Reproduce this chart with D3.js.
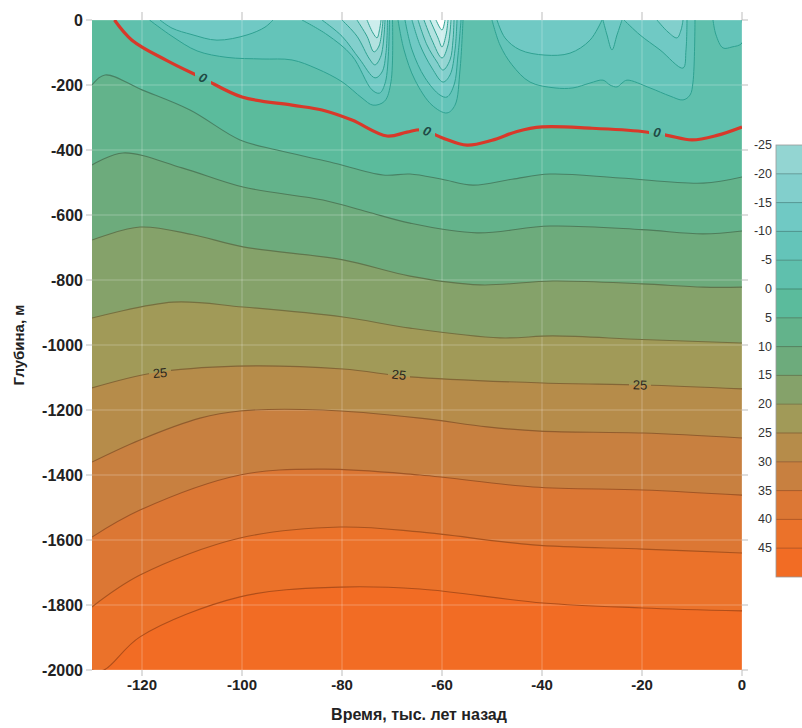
<!DOCTYPE html>
<html>
<head>
<meta charset="utf-8">
<script src="https://cdn.jsdelivr.net/npm/d3@7"></script>
<style>
  body { margin: 0; background: #ffffff; }
  text { font-family: "Liberation Sans", Arial, sans-serif; }
</style>
</head>
<body>
<svg id="chart" width="802" height="728"></svg>
<script>
// ---- axes ----
const timeTicks = [-120, -100, -80, -60, -40, -20, 0];
const depthTicks = [0, -200, -400, -600, -800, -1000, -1200, -1400, -1600, -1800, -2000];

// ---- colour scale (°C) ----
const legendLevels = [-25, -20, -15, -10, -5, 0, 5, 10, 15, 20, 25, 30, 35, 40, 45];
const legendColors = ["#93d5d2", "#82cfcc", "#70c9c4", "#64c4b9", "#5fc0ad", "#5bbb9c",
  "#63b38b", "#6dab7c", "#85a26a", "#a19a58", "#b68c4a", "#c88040", "#dc7734", "#eb722a", "#f26c24"];
const colderColors = { "-25": "#b3e2e0", "-30": "#cdeeed", "-35": "#ffffff" };

// ---- isotherms: [time, kyr BP ; depth, m] ----
const iso0 = [[-125.5, 0], [-122, -62], [-115, -125], [-108, -178], [-100, -237], [-90, -262], [-84, -277],
  [-78, -308], [-71, -357], [-67, -345], [-64, -338], [-60, -362], [-55, -385], [-50, -370], [-45, -343],
  [-40, -329], [-30, -333], [-20, -343], [-15, -355], [-10, -369], [-5, -355], [0, -329]];
const iso5 = [[-130, -200], [-127.4, -169], [-120, -215], [-110.4, -277], [-100.4, -369], [-93, -400],
  [-82.4, -437], [-71.8, -477], [-66.4, -474], [-60, -490], [-53.8, -508], [-46, -490], [-38.4, -474],
  [-24.4, -486], [-7.8, -502], [0, -483]];
const iso10 = [[-130, -446], [-123.8, -409], [-112, -455], [-99.8, -514], [-83.8, -554], [-75, -590],
  [-66.4, -625], [-53, -655], [-38.4, -634], [-20, -645], [-7.8, -658], [0, -649]];
const iso15 = [[-130, -677], [-120.4, -637], [-110, -660], [-99.8, -698], [-79.8, -738], [-66.4, -788],
  [-52.4, -815], [-37.8, -803], [-20, -812], [-7.8, -822], [0, -822]];
const iso20 = [[-130, -917], [-113.8, -868], [-99.8, -883], [-79.8, -914], [-66.4, -948], [-48.4, -978],
  [-37.8, -972], [-20, -983], [0, -994]];
const iso25 = [[-130, -1132], [-117.8, -1086], [-101, -1065], [-79.8, -1074], [-66.4, -1098],
  [-39.8, -1117], [-19.8, -1123], [0, -1135]];
const iso30 = [[-130, -1360], [-120.4, -1292], [-108.4, -1225], [-100.4, -1203], [-83.8, -1200],
  [-64.4, -1225], [-51, -1252], [-40.4, -1265], [-19.8, -1271], [0, -1286]];
const iso35 = [[-130, -1591], [-120.4, -1508], [-100.4, -1400], [-83.8, -1382], [-64.4, -1400],
  [-41.8, -1437], [-19.8, -1446], [0, -1462]];
const iso40 = [[-130, -1806], [-120.4, -1708], [-100.4, -1594], [-80.4, -1560], [-64.4, -1575],
  [-41.8, -1615], [-19.8, -1628], [0, -1640]];
const iso45 = [[-130, -2000], [-127.6, -2000], [-120.4, -1898], [-100.4, -1775], [-80.4, -1745],
  [-64.4, -1751], [-39.8, -1794], [-19.8, -1809], [0, -1818]];

// ---- sub-zero pockets near the surface (closed against depth 0) ----
const pocketWestOuter = [[-118.5, 0], [-114, -50], [-109, -95], [-103, -115], [-96, -120], [-90, -123],
  [-85, -150], [-80, -190], [-76, -240], [-73.8, -262], [-71.5, -250], [-70.2, -190], [-69.9, 0]];
const pocketWestShallow = [[-116.4, 0], [-114, -25], [-110, -45], [-105, -62], [-99, -46], [-95.4, -22], [-93.8, 0]];
const pocketWest10 = [[-88, 0], [-83, -45], [-78, -110], [-74, -215], [-72.5, -225], [-71.3, -190], [-70.5, 0]];
const pocketWest15 = [[-84, 0], [-80, -50], [-76.5, -120], [-73.4, -178], [-72, -160], [-71.2, -100], [-70.9, 0]];
const pocketWest20 = [[-80, 0], [-77, -50], [-74.5, -120], [-73.4, -138], [-72.2, -110], [-71.4, 0]];
const pocketWest25 = [[-77, 0], [-75, -50], [-73.6, -98], [-72.6, -80], [-71.8, 0]];
const pocketWest30 = [[-75, 0], [-73.8, -40], [-73, -55], [-72.5, -30], [-72.2, 0]];

const pocketMid5 = [[-68.8, 0], [-67.6, -92], [-65.4, -185], [-62, -262], [-59, -286], [-57.4, -262], [-56.4, -154], [-55.8, 0]];
const pocketMid10 = [[-67.4, 0], [-66, -92], [-63.4, -178], [-60.4, -231], [-59, -237], [-57.6, -200], [-56.8, -108], [-56.2, 0]];
const pocketMid15 = [[-66, 0], [-64.4, -77], [-62, -148], [-59.8, -191], [-58.4, -169], [-57.4, -92], [-57, 0]];
const pocketMid20 = [[-64.8, 0], [-63, -77], [-61, -129], [-59.8, -154], [-58.4, -123], [-57.8, -62], [-57.6, 0]];
const pocketMid25 = [[-63.6, 0], [-62, -62], [-60, -117], [-58.8, -77], [-58.2, 0]];
const pocketMid30 = [[-62.4, 0], [-60.8, -55], [-60, -83], [-59.2, -46], [-58.8, 0]];
const pocketMid35 = [[-61.2, 0], [-60, -31], [-59.4, 0]];

const pocketEastOuter = [[-50, 0], [-48.4, -77], [-46, -138], [-42.4, -191], [-37.4, -209], [-33.8, -209],
  [-30.4, -194], [-27.8, -185], [-26.4, -200], [-25, -206], [-24, -194], [-23, -185], [-18.4, -209],
  [-14.4, -234], [-11.8, -246], [-10.4, -231], [-9.8, -191], [-9.4, 0]];
const pocketEastA = [[-49, 0], [-47.4, -55], [-44.4, -92], [-39.4, -108], [-34.4, -102], [-30.4, -62], [-28, 0]];
const pocketEastB = [[-27.8, 0], [-27, -46], [-26, -92], [-25, -46], [-24, 0]];
const pocketEastC = [[-23.6, 0], [-20.4, -46], [-16.4, -92], [-11.8, -148], [-11.2, -92], [-11, 0]];
const pocketEastD = [[-17, 0], [-14.8, -37], [-13, -55], [-12.2, -31], [-11.8, 0]];
const pocketEdge = [[-5.8, 0], [-5.2, -46], [-3.8, -86], [-2, -83], [0, -71], [0, 0]];

// ---- contour labels [time, depth] ----
const zeroLabels = [[-107.8, -178], [-63, -342], [-17, -346]];
const label25 = [[-116.4, -1086], [-68.6, -1092], [-20.4, -1123]];

// ================= drawing =================
const W = 802, H = 728;
const plot = { left: 92, right: 742, top: 20, bottom: 670 };
const x = d3.scaleLinear().domain([-130, 0]).range([plot.left, plot.right]);
const y = d3.scaleLinear().domain([0, -2000]).range([plot.top, plot.bottom]);

const svg = d3.select("#chart");
const defs = svg.append("defs");
defs.append("clipPath").attr("id", "plotClip").append("rect")
  .attr("x", plot.left).attr("y", plot.top)
  .attr("width", plot.right - plot.left).attr("height", plot.bottom - plot.top);

// fill colour for the region just colder than an isotherm
const bandColor = lvl => {
  const i = legendLevels.indexOf(lvl);
  if (i > 0) return legendColors[i - 1];
  return colderColors[String(lvl)] || legendColors[0];
};
// line colour of an isotherm: darker shade of the warmer side
const lineColor = lvl => d3.color(legendColors[legendLevels.indexOf(lvl)]).darker(0.9).formatHex();

const g = svg.append("g").attr("clip-path", "url(#plotClip)");
const curve = d3.curveCatmullRom.alpha(0.5);

// warmest band as background
g.append("rect").attr("x", plot.left).attr("y", plot.top)
  .attr("width", plot.right - plot.left).attr("height", plot.bottom - plot.top)
  .attr("fill", legendColors[legendColors.length - 1]);

const isotherms = [
  { level: 45, pts: iso45 }, { level: 40, pts: iso40 }, { level: 35, pts: iso35 },
  { level: 30, pts: iso30 }, { level: 25, pts: iso25 }, { level: 20, pts: iso20 },
  { level: 15, pts: iso15 }, { level: 10, pts: iso10 }, { level: 5, pts: iso5 },
  { level: 0, pts: iso0 }
];

const area = d3.area().x(d => x(d[0])).y0(y(0)).y1(d => y(d[1])).curve(curve);
const line = d3.line().x(d => x(d[0])).y(d => y(d[1])).curve(curve);

isotherms.forEach(iso => {
  g.append("path").attr("d", area(iso.pts)).attr("fill", bandColor(iso.level));
});

const pockets = [
  { level: -5, pts: pocketWestOuter }, { level: -5, pts: pocketMid5 }, { level: -5, pts: pocketEastOuter },
  { level: -5, pts: pocketEdge },
  { level: -10, pts: pocketWestShallow }, { level: -10, pts: pocketWest10 }, { level: -10, pts: pocketMid10 },
  { level: -10, pts: pocketEastA }, { level: -10, pts: pocketEastB }, { level: -10, pts: pocketEastC },
  { level: -15, pts: pocketWest15 }, { level: -15, pts: pocketMid15 }, { level: -15, pts: pocketEastD },
  { level: -20, pts: pocketWest20 }, { level: -20, pts: pocketMid20 },
  { level: -25, pts: pocketWest25 }, { level: -25, pts: pocketMid25 },
  { level: -30, pts: pocketWest30 }, { level: -30, pts: pocketMid30 },
  { level: -35, pts: pocketMid35 }
];

pockets.forEach(p => {
  g.append("path").attr("d", line(p.pts) + "Z").attr("fill", bandColor(p.level));
});

// grid
const grid = g.append("g").attr("stroke", "rgba(255,255,255,0.28)").attr("stroke-width", 1);
timeTicks.forEach(t => grid.append("line").attr("x1", x(t)).attr("x2", x(t)).attr("y1", plot.top).attr("y2", plot.bottom));
depthTicks.forEach(d => grid.append("line").attr("y1", y(d)).attr("y2", y(d)).attr("x1", plot.left).attr("x2", plot.right));

// label gaps in contour lines
const mask = defs.append("mask").attr("id", "labelGaps");
mask.append("rect").attr("x", 0).attr("y", 0).attr("width", W).attr("height", H).attr("fill", "#fff");
zeroLabels.forEach(p => mask.append("rect").attr("x", x(p[0]) - 8).attr("y", y(p[1]) - 8).attr("width", 16).attr("height", 16).attr("fill", "#000"));
label25.forEach(p => mask.append("rect").attr("x", x(p[0]) - 11).attr("y", y(p[1]) - 7).attr("width", 22).attr("height", 14).attr("fill", "#000"));

const lines = g.append("g").attr("mask", "url(#labelGaps)").attr("fill", "none");

pockets.forEach(p => {
  lines.append("path").attr("d", line(p.pts)).attr("stroke", "#2fa191").attr("stroke-width", 1);
});

isotherms.forEach(iso => {
  lines.append("path").attr("d", line(iso.pts))
    .attr("stroke", iso.level === 0 ? "#d8392a" : lineColor(iso.level))
    .attr("stroke-width", iso.level === 0 ? 3.2 : 1.1);
});

// label orientation follows the isotherm
function slopeAngle(pts, t) {
  for (let i = 0; i < pts.length - 1; i++) {
    if (t >= pts[i][0] && t <= pts[i + 1][0]) {
      const dx = x(pts[i + 1][0]) - x(pts[i][0]);
      const dy = y(pts[i + 1][1]) - y(pts[i][1]);
      return Math.atan2(dy, dx) * 180 / Math.PI;
    }
  }
  return 0;
}

zeroLabels.forEach(p => {
  g.append("text").attr("x", x(p[0])).attr("y", y(p[1]))
    .attr("transform", `rotate(${slopeAngle(iso0, p[0])},${x(p[0])},${y(p[1])})`)
    .attr("text-anchor", "middle").attr("dominant-baseline", "central")
    .attr("font-size", 13).attr("font-style", "italic").attr("font-weight", "bold")
    .attr("fill", "#1e4a45").text("0");
});
label25.forEach(p => {
  g.append("text").attr("x", x(p[0])).attr("y", y(p[1]))
    .attr("transform", `rotate(${slopeAngle(iso25, p[0])},${x(p[0])},${y(p[1])})`)
    .attr("text-anchor", "middle").attr("dominant-baseline", "central")
    .attr("font-size", 13).attr("fill", "#2a261e").text("25");
});

// ---- axes ----
const tickColor = "#bdbdbd";
const axisG = svg.append("g");
depthTicks.forEach(d => {
  axisG.append("line").attr("x1", plot.left - 6).attr("x2", plot.left).attr("y1", y(d)).attr("y2", y(d)).attr("stroke", tickColor);
  axisG.append("line").attr("x1", plot.right).attr("x2", plot.right + 6).attr("y1", y(d)).attr("y2", y(d)).attr("stroke", tickColor);
  axisG.append("text").attr("x", plot.left - 9).attr("y", y(d)).attr("text-anchor", "end")
    .attr("dominant-baseline", "central").attr("font-size", 16).attr("font-weight", "bold")
    .attr("fill", "#222").text(d);
});
timeTicks.forEach(t => {
  axisG.append("line").attr("x1", x(t)).attr("x2", x(t)).attr("y1", plot.bottom).attr("y2", plot.bottom + 6).attr("stroke", tickColor);
  axisG.append("line").attr("x1", x(t)).attr("x2", x(t)).attr("y1", plot.top - 8).attr("y2", plot.top).attr("stroke", tickColor);
  axisG.append("text").attr("x", x(t)).attr("y", plot.bottom + 20).attr("text-anchor", "middle")
    .attr("font-size", 15).attr("font-weight", "bold").attr("fill", "#222").text(t);
});
svg.append("text").attr("transform", `translate(24,345) rotate(-90)`)
  .attr("text-anchor", "middle").attr("font-size", 15).attr("font-weight", "bold").attr("fill", "#222")
  .text("Глубина, м");
svg.append("text").attr("x", 419).attr("y", 720)
  .attr("text-anchor", "middle").attr("font-size", 16).attr("font-weight", "bold").attr("fill", "#222")
  .text("Время, тыс. лет назад");

// ---- colour legend ----
const legTop = 145, legBottom = 577, legX = 776, legW = 30;
const ly = d3.scaleBand().domain(legendLevels).range([legTop, legBottom]);
const leg = svg.append("g");
legendLevels.forEach((lv, i) => {
  leg.append("rect").attr("x", legX).attr("y", ly(lv)).attr("width", legW).attr("height", ly.bandwidth())
    .attr("fill", legendColors[i]);
  if (i > 0) leg.append("line").attr("x1", legX).attr("x2", legX + legW).attr("y1", ly(lv)).attr("y2", ly(lv))
    .attr("stroke", d3.color(legendColors[i]).darker(0.8)).attr("stroke-width", 1);
  leg.append("text").attr("x", legX - 4).attr("y", ly(lv)).attr("text-anchor", "end")
    .attr("dominant-baseline", "central").attr("font-size", 12.5).attr("fill", "#333").text(lv);
});
leg.append("rect").attr("x", legX).attr("y", legTop).attr("width", legW).attr("height", legBottom - legTop)
  .attr("fill", "none").attr("stroke", "#9a9a9a").attr("stroke-width", 0.8);
</script>
</body>
</html>
